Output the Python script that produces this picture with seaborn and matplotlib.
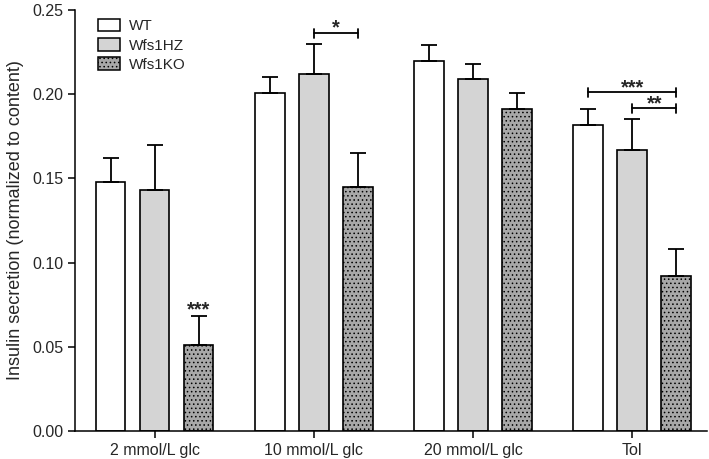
import matplotlib
matplotlib.use("Agg")
import matplotlib.pyplot as plt
import seaborn as sns
import pandas as pd
import numpy as np
from matplotlib.patches import Patch

categories = ["2 mmol/L glc", "10 mmol/L glc", "20 mmol/L glc", "Tol"]
genotypes = ["WT", "Wfs1HZ", "Wfs1KO"]
wt_mean = [0.148, 0.201, 0.220, 0.182]
hz_mean = [0.143, 0.212, 0.209, 0.167]
ko_mean = [0.051, 0.145, 0.191, 0.092]
wt_err = [0.014, 0.009, 0.009, 0.009]
hz_err = [0.027, 0.018, 0.009, 0.018]
ko_err = [0.017, 0.020, 0.010, 0.016]
yticks = [0.00, 0.05, 0.10, 0.15, 0.20, 0.25]
ylabel = "Insulin secretion (normalized to content)"

sns.set_style("ticks")
plt.rcParams["font.family"] = ["Liberation Sans", "DejaVu Sans"]
plt.rcParams["hatch.linewidth"] = 0.6

rows = []
for g, means in zip(genotypes, [wt_mean, hz_mean, ko_mean]):
    for c, m in zip(categories, means):
        rows.append({"condition": c, "genotype": g, "value": m})
df = pd.DataFrame(rows)
errs = {"WT": wt_err, "Wfs1HZ": hz_err, "Wfs1KO": ko_err}
colors = {"WT": "#ffffff", "Wfs1HZ": "#d4d4d4", "Wfs1KO": "#a8a8a8"}

fig = plt.figure(figsize=(7.09, 4.59), dpi=100)
ax = fig.add_axes([75 / 709, 1 - 431 / 459, (707 - 75) / 709, (431 - 10) / 459])

sns.barplot(data=df, x="condition", y="value", hue="genotype", order=categories,
            hue_order=genotypes, palette=colors, errorbar=None, width=0.83,
            gap=0.33, edgecolor="black", linewidth=1.2, ax=ax, legend=False,
            saturation=1)

centers = {}
for g, cont in zip(genotypes, ax.containers):
    xs, hs = [], []
    for p in cont.patches:
        xs.append(p.get_x() + p.get_width() / 2)
        hs.append(p.get_height())
        if g == "Wfs1KO":
            p.set_hatch("....")
    centers[g] = xs
    e = np.array(errs[g])
    ax.errorbar(xs, hs, yerr=[np.zeros_like(e), e], fmt="none", ecolor="black",
                elinewidth=1.3, capsize=5.5, capthick=1.3, zorder=1)

def stars(x, y, text):
    ax.text(x, y, text, ha="center", va="bottom", fontsize=14.5, fontweight="bold")

def bracket(x1, x2, y, text):
    ax.plot([x1, x2], [y, y], color="black", lw=1.3, zorder=5)
    for x in (x1, x2):
        ax.plot([x, x], [y - 0.0027, y + 0.0027], color="black", lw=1.3, zorder=5)
    stars((x1 + x2) / 2, y - 0.0028, text)

bracket(centers["Wfs1HZ"][1], centers["Wfs1KO"][1], 0.2363, "*")
bracket(centers["WT"][3], centers["Wfs1KO"][3], 0.2012, "***")
bracket(centers["Wfs1HZ"][3], centers["Wfs1KO"][3], 0.1917, "**")
stars(centers["Wfs1KO"][0], ko_mean[0] + ko_err[0] - 0.0018, "***")

ax.set_ylim(0, 0.25)
ax.set_xlim(-0.5, 3.47)
ax.set_yticks(yticks)
ax.set_yticklabels([f"{t:.2f}" for t in yticks])
ax.set_xlabel("")
ax.set_ylabel(ylabel, fontsize=13, labelpad=6)
ax.tick_params(axis="both", labelsize=11.5, width=1.1, length=5, color="black")
for s in ["top", "right"]:
    ax.spines[s].set_visible(False)
for s in ["left", "bottom"]:
    ax.spines[s].set_linewidth(1.1)
    ax.spines[s].set_color("black")

handles = [Patch(facecolor=colors[g], edgecolor="black", linewidth=1.1,
                 hatch="...." if g == "Wfs1KO" else None) for g in genotypes]
ax.legend(handles, genotypes, loc="upper left", bbox_to_anchor=(0.015, 1.012),
          frameon=False, fontsize=11, handlelength=1.4, handleheight=0.9,
          labelspacing=0.3, handletextpad=0.6)

fig.savefig("out.png", dpi=100)
